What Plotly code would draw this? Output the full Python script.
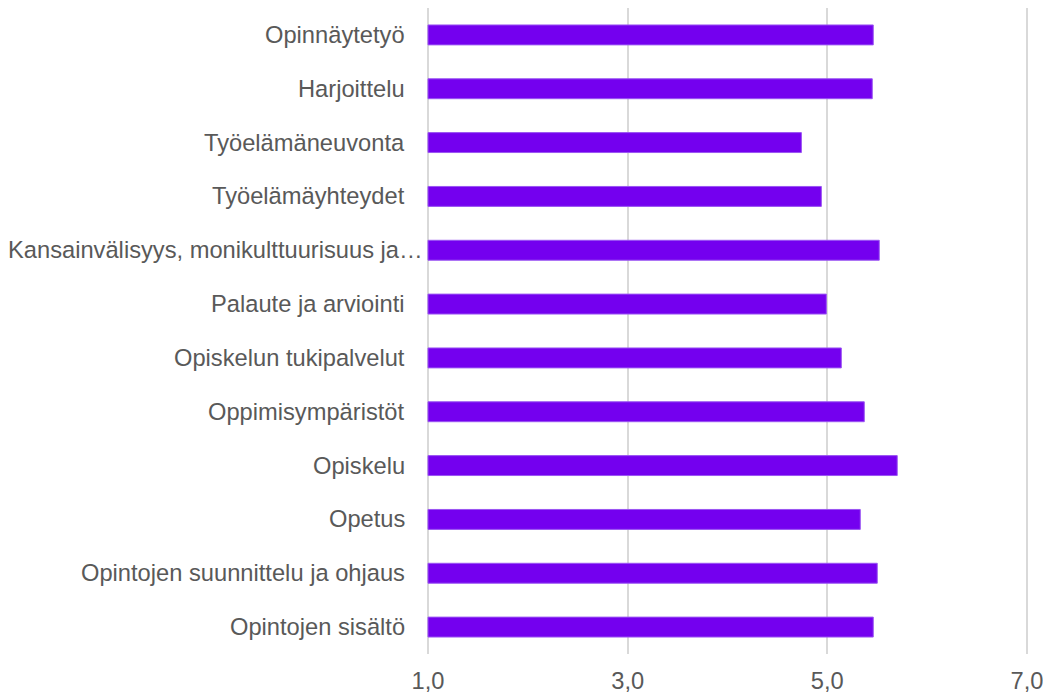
import plotly.graph_objects as go

categories = [
    "Opinnäytetyö",
    "Harjoittelu",
    "Työelämäneuvonta",
    "Työelämäyhteydet",
    "Kansainvälisyys, monikulttuurisuus ja…",
    "Palaute ja arviointi",
    "Opiskelun tukipalvelut",
    "Oppimisympäristöt",
    "Opiskelu",
    "Opetus",
    "Opintojen suunnittelu ja ohjaus",
    "Opintojen sisältö",
]
values = [5.46, 5.45, 4.74, 4.94, 5.52, 4.99, 5.14, 5.37, 5.70, 5.33, 5.50, 5.46]
base_value = 1.0
x_ticks = [1, 3, 5, 7]

lengths = [v - base_value for v in values]

FONT = "Liberation Sans, Arial, sans-serif"

fig = go.Figure(
    go.Bar(
        y=categories,
        x=lengths,
        base=base_value,
        orientation="h",
        width=0.37,
        marker=dict(color="#7400EF", line=dict(color="#9A55F2", width=1)),
        hoverinfo="x+y",
    )
)

annotations = []
for c in categories:
    shift = -3 if c.endswith("…") else -21
    annotations.append(
        dict(
            x=0, xref="paper", y=c, yref="y",
            text=c, showarrow=False, xanchor="right", yanchor="middle",
            xshift=shift + 2,
            font=dict(family=FONT, size=23.7, color="#595959"),
        )
    )

fig.update_layout(
    template="none",
    width=1043,
    height=698,
    margin=dict(l=426, r=14, t=8, b=44, autoexpand=False),
    paper_bgcolor="white",
    plot_bgcolor="white",
    separators=", ",
    showlegend=False,
    annotations=annotations,
    font=dict(family=FONT, size=23.7, color="#595959"),
)
fig.update_xaxes(
    range=[0.98, 7.02],
    tickvals=x_ticks,
    tickformat=".1f",
    showgrid=True,
    gridcolor="#D9D9D9",
    gridwidth=1.5,
    zeroline=False,
    showline=False,
    ticks="",
    ticklabelstandoff=10,
    ticklabeloverflow="allow",
    tickfont=dict(family=FONT, size=23.7, color="#595959"),
    automargin=False,
    layer="below traces",
)
fig.update_yaxes(
    type="category",
    categoryorder="array",
    categoryarray=categories,
    autorange="reversed",
    showticklabels=False,
    showgrid=False,
    zeroline=False,
    showline=False,
    ticks="",
    automargin=False,
)

fig.write_html(
    "out.html",
    config={"displayModeBar": False},
    post_script="document.body.style.margin='0';document.body.style.padding='0';",
)
